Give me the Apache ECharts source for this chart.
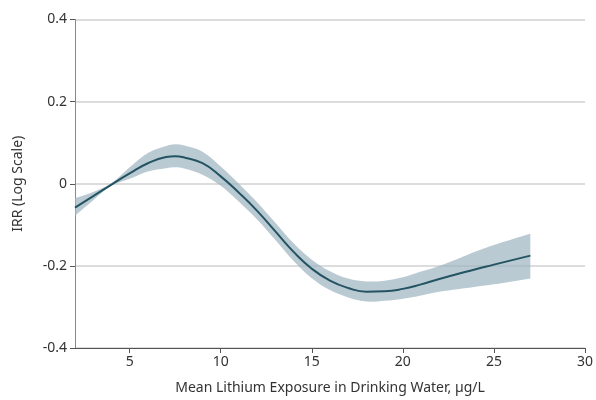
<!DOCTYPE html>
<html>
<head>
<meta charset="utf-8">
<script src="https://cdn.jsdelivr.net/npm/echarts@6/dist/echarts.min.js"></script>
<style>
  html, body { margin: 0; padding: 0; background: #fff; }
  #chart { width: 596px; height: 400px; }
</style>
</head>
<body>
<div id="chart"></div>
<script>
// exposure (µg/L) and IRR on log scale
const exposure = [2, 3, 4, 5, 6, 7, 7.5, 8, 9, 10, 11, 12, 13, 14, 15, 16, 17, 18, 19, 20, 21, 22, 23, 24, 25, 26, 27];
const estimate = [-0.058, -0.030, -0.002, 0.025, 0.050, 0.065, 0.067, 0.064, 0.050, 0.018, -0.022, -0.066, -0.116, -0.166, -0.207, -0.236, -0.254, -0.263, -0.262, -0.256, -0.245, -0.232, -0.220, -0.208, -0.197, -0.186, -0.175];
const lowerCI = [-0.078, -0.040, -0.005, 0.012, 0.030, 0.038, 0.040, 0.037, 0.022, -0.005, -0.044, -0.087, -0.137, -0.188, -0.230, -0.259, -0.277, -0.287, -0.285, -0.280, -0.272, -0.263, -0.257, -0.251, -0.245, -0.238, -0.231];
const upperCI = [-0.035, -0.020, 0.001, 0.040, 0.075, 0.092, 0.096, 0.093, 0.078, 0.042, 0.000, -0.045, -0.095, -0.145, -0.185, -0.213, -0.231, -0.238, -0.236, -0.228, -0.214, -0.200, -0.183, -0.165, -0.149, -0.135, -0.122];
const xTicks = [5, 10, 15, 20, 25, 30];

const textColor = '#333';
const fontFamily = 'Noto Sans';

const chart = echarts.init(document.getElementById('chart'));

// confidence band: one polygon, upper edge left->right then lower edge right->left.
// end points are doubled so the smoothing keeps the corners sharp
function renderBand(params, api) {
    if (params.dataIndex !== 0) return;
    const pts = [];
    const n = exposure.length;
    for (let i = 0; i < n; i++) {
        const p = api.coord([exposure[i], upperCI[i]]);
        pts.push(p);
        if (i === 0 || i === n - 1) pts.push(p.slice());
    }
    for (let i = n - 1; i >= 0; i--) {
        const p = api.coord([exposure[i], lowerCI[i]]);
        pts.push(p);
        if (i === 0 || i === n - 1) pts.push(p.slice());
    }
    return {
        type: 'polygon',
        shape: { points: pts, smooth: 0.35 },
        style: { fill: '#9fb5c0', opacity: 0.72 }
    };
}

const option = {
    animation: false,
    grid: { left: 75, right: 8, top: 19.5, bottom: 51 },
    xAxis: {
        type: 'value',
        min: 2,
        max: 30,
        name: 'Mean Lithium Exposure in Drinking Water, µg/L',
        nameLocation: 'middle',
        nameGap: 33,
        nameTextStyle: { color: textColor, fontSize: 14, fontFamily: fontFamily },
        axisLine: { show: true, onZero: false, lineStyle: { color: '#555', width: 1 } },
        axisTick: { show: true, length: 5, customValues: xTicks, lineStyle: { color: '#555' } },
        axisLabel: { customValues: xTicks, color: textColor, fontSize: 14, fontFamily: fontFamily, margin: 7 },
        splitLine: { show: false }
    },
    yAxis: {
        type: 'value',
        min: -0.4,
        max: 0.4,
        interval: 0.2,
        name: 'IRR (Log Scale)',
        nameLocation: 'middle',
        nameGap: 50,
        nameRotate: 90,
        nameTextStyle: { color: textColor, fontSize: 14, fontFamily: fontFamily },
        axisLine: { show: true, lineStyle: { color: '#888', width: 1 } },
        axisTick: { show: true, length: 5, lineStyle: { color: '#555' } },
        axisLabel: {
            color: textColor, fontSize: 14, fontFamily: fontFamily, margin: 8,
            formatter: v => Math.abs(v) < 1e-9 ? '0' : v.toFixed(1)
        },
        splitLine: { show: true, lineStyle: { color: '#dcdcdc', width: 2 } }
    },
    series: [
        {
            name: 'CI',
            type: 'custom',
            renderItem: renderBand,
            clip: true,
            data: exposure.map((x, i) => [x, lowerCI[i], upperCI[i]]),
            encode: { x: 0, y: [1, 2] },
            z: 2
        },
        {
            name: 'IRR',
            type: 'line',
            data: exposure.map((x, i) => [x, estimate[i]]),
            smooth: true,
            symbol: 'none',
            lineStyle: { color: '#245463', width: 2 },
            z: 3
        }
    ]
};

chart.setOption(option);
</script>
</body>
</html>
